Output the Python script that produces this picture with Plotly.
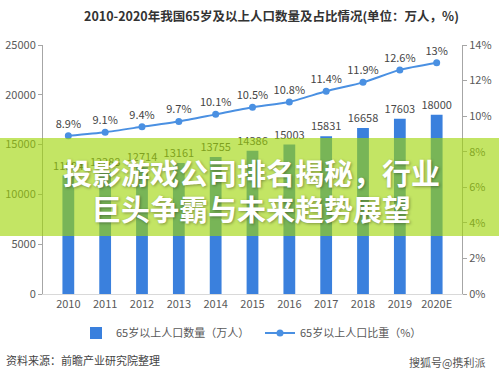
import plotly.graph_objects as go

years = ["2010", "2011", "2012", "2013", "2014", "2015", "2016", "2017", "2018", "2019", "2020E"]
population = [11894, 12288, 12714, 13161, 13755, 14386, 15003, 15831, 16658, 17603, 18000]
share = [8.9, 9.1, 9.4, 9.7, 10.1, 10.5, 10.8, 11.4, 11.9, 12.6, 13]
share_labels = ["8.9%", "9.1%", "9.4%", "9.7%", "10.1%", "10.5%", "10.8%", "11.4%", "11.9%", "12.6%", "13%"]

FONT = "Noto Sans CJK SC, Microsoft YaHei, sans-serif"
W, H = 499, 374
ML, MR, MT, MB = 43, 37, 45, 80
PW, PH = W - ML - MR, H - MT - MB

def px(x):
    return (x - ML) / PW

def py(y):
    return (H - MB - y) / PH

fig = go.Figure()
fig.add_trace(go.Bar(
    x=years, y=population, name="65岁以上人口数量（万人）",
    marker=dict(color="#3a80dd", line=dict(width=0)),
    text=[str(v) for v in population], textposition="outside",
    constraintext="none",
    textfont=dict(size=11, color="#4a4a4a", family=FONT),
    cliponaxis=False,
))
fig.add_trace(go.Scatter(
    x=years, y=share, yaxis="y2", name="65岁以上人口比重（%）",
    mode="lines+markers+text",
    line=dict(color="#4a90e2", width=2, shape="spline", smoothing=0.6),
    marker=dict(color="#4a90e2", size=7),
    text=share_labels, textposition="top center",
    textfont=dict(size=11, color="#444444", family=FONT),
    cliponaxis=False,
))

fig.update_layout(
    width=W, height=H,
    margin=dict(l=ML, r=MR, t=MT, b=MB, autoexpand=False),
    paper_bgcolor="white", plot_bgcolor="white",
    font=dict(family=FONT, size=11, color="#595959"),
    bargap=0.68,
    showlegend=True,
    legend=dict(orientation="h", x=px(76), xanchor="left", y=py(333), yanchor="middle",
                font=dict(size=11, color="#595959"), itemwidth=30, tracegroupgap=0,
                entrywidthmode="pixels", entrywidth=139, bgcolor="rgba(0,0,0,0)"),
    xaxis=dict(showgrid=False, showline=True, linecolor="#d9d9d9", linewidth=1,
               ticks="", tickfont=dict(size=11, color="#595959")),
    yaxis=dict(range=[0, 25000], dtick=5000, tickformat="d", showgrid=False, zeroline=False,
               showline=True, linecolor="#a6a6a6", linewidth=1,
               ticks="outside", ticklen=4, tickcolor="#a6a6a6",
               tickfont=dict(size=11, color="#595959")),
    yaxis2=dict(range=[0, 14], dtick=2, overlaying="y", side="right",
                showgrid=False, zeroline=False, showline=True, linecolor="#a6a6a6",
                linewidth=1, ticks="outside", ticklen=4, tickcolor="#a6a6a6",
                ticksuffix="%", tickfont=dict(size=11, color="#595959")),
)

# title
fig.add_annotation(text="<b>2010-2020年我国65岁及以上人口数量及占比情况(单位：万人，%)</b>",
                   xref="paper", yref="paper", x=px(271), y=py(15), xanchor="center",
                   yanchor="middle", showarrow=False,
                   font=dict(size=12.5, color="#333333", family=FONT))
# source
fig.add_annotation(text="资料来源：前瞻产业研究院整理", xref="paper", yref="paper",
                   x=px(4), y=py(360), xanchor="left", yanchor="middle", showarrow=False,
                   font=dict(size=11, color="#444444", family=FONT))
fig.add_annotation(text="搜狐号@携利派", xref="paper", yref="paper",
                   x=px(487), y=py(362), xanchor="right", yanchor="middle", showarrow=False,
                   font=dict(size=11, color="#555555", family=FONT))

# green banner overlay
fig.add_shape(type="rect", xref="paper", yref="paper",
              x0=px(0), x1=px(W), y0=py(236), y1=py(138),
              fillcolor="rgba(158,213,5,0.62)", line=dict(width=0), layer="above")
fig.add_annotation(text="<b>投影游戏公司排名揭秘，行业</b>", xref="paper", yref="paper",
                   x=px(251), y=py(172), xanchor="center", yanchor="middle", showarrow=False,
                   font=dict(size=29, color="white", family=FONT, shadow="1px 1px 3px rgba(0,0,0,0.35)"))
fig.add_annotation(text="<b>巨头争霸与未来趋势展望</b>", xref="paper", yref="paper",
                   x=px(251), y=py(208), xanchor="center", yanchor="middle", showarrow=False,
                   font=dict(size=29, color="white", family=FONT, shadow="1px 1px 3px rgba(0,0,0,0.35)"))

fig.write_html("out.html", config={"displayModeBar": False},
               post_script="document.body.style.margin='0';document.body.style.padding='0';")
